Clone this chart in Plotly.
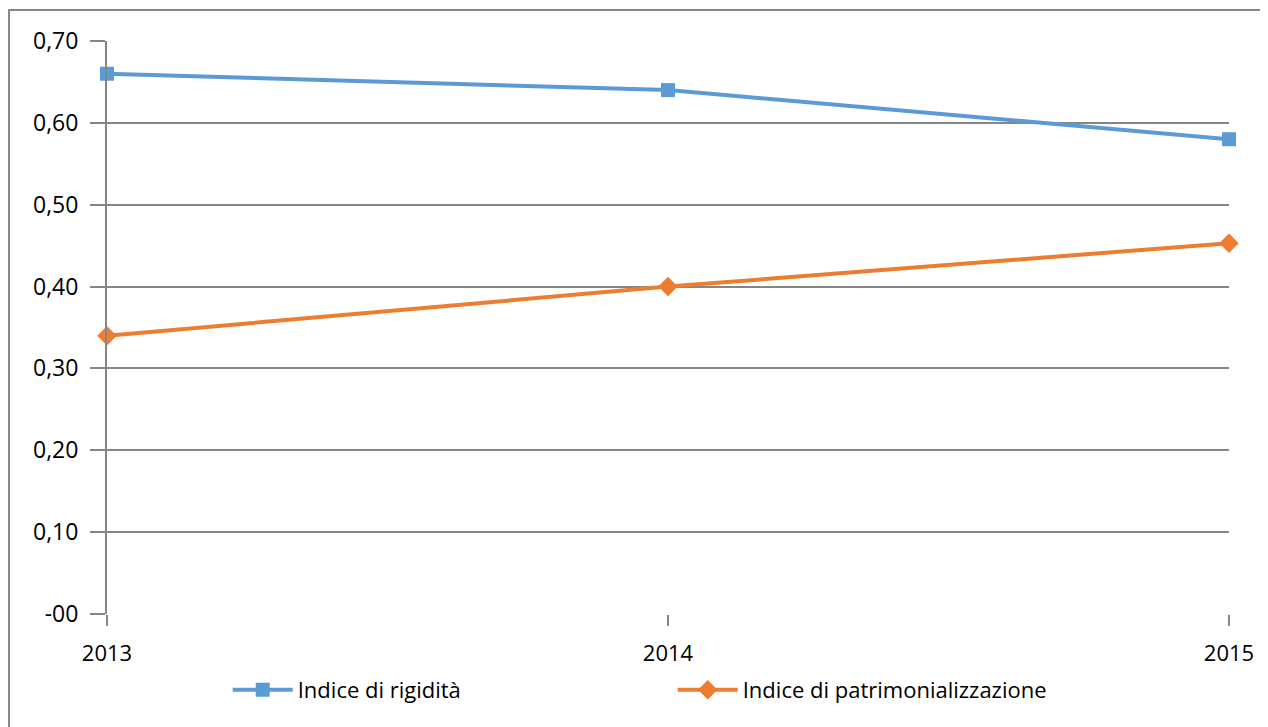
import plotly.graph_objects as go

years = [2013, 2014, 2015]
rigidita = [0.66, 0.64, 0.58]
patrimonializzazione = [0.34, 0.40, 0.453]

y_ticks = [0, 0.1, 0.2, 0.3, 0.4, 0.5, 0.6, 0.7]
y_labels = ["-00", "0,10", "0,20", "0,30", "0,40", "0,50", "0,60", "0,70"]

GRID = "#868686"

fig = go.Figure()

fig.add_trace(
    go.Scatter(
        x=years,
        y=rigidita,
        name="Indice di rigidità",
        mode="lines+markers",
        line=dict(color="#5B9BD5", width=4),
        marker=dict(symbol="square", size=14, color="#5B9BD5"),
        cliponaxis=False,
    )
)

fig.add_trace(
    go.Scatter(
        x=years,
        y=patrimonializzazione,
        name="Indice di patrimonializzazione",
        mode="lines+markers",
        line=dict(color="#ED7D31", width=4),
        marker=dict(symbol="diamond", size=15, color="#ED7D31"),
        cliponaxis=False,
    )
)

# bordo del grafico (solo sinistra e alto visibili)
fig.add_shape(
    type="rect",
    xref="paper",
    yref="paper",
    x0=-0.0873,
    y0=-0.5,
    x1=1.2,
    y1=1.054,
    line=dict(color=GRID, width=2),
    layer="below",
)

fig.update_layout(
    width=1260,
    height=719,
    margin=dict(l=99, r=39, t=33, b=113),
    plot_bgcolor="#ffffff",
    paper_bgcolor="#ffffff",
    font=dict(family="Open Sans", size=22, color="#000000"),
    showlegend=True,
    legend=dict(
        orientation="h",
        x=0.1076,
        xanchor="left",
        y=-0.1326,
        yanchor="middle",
        font=dict(size=22),
        itemwidth=60,
        entrywidth=370,
        entrywidthmode="pixels",
    ),
    xaxis=dict(
        range=[2013, 2015],
        tickvals=years,
        ticktext=[str(y) for y in years],
        showgrid=False,
        zeroline=False,
        showline=False,
        ticks="outside",
        ticklen=11,
        tickwidth=2,
        tickcolor=GRID,
        tickfont=dict(size=22),
        ticklabelstandoff=9,
    ),
    yaxis=dict(
        range=[0, 0.7],
        tickvals=y_ticks,
        ticktext=y_labels,
        showgrid=True,
        gridcolor=GRID,
        gridwidth=2,
        zeroline=False,
        showline=True,
        linecolor=GRID,
        linewidth=2,
        ticks="outside",
        ticklen=15,
        tickwidth=2,
        tickcolor=GRID,
        tickfont=dict(size=23),
        ticklabelstandoff=7,
    ),
)

fig.write_html("out.html")
